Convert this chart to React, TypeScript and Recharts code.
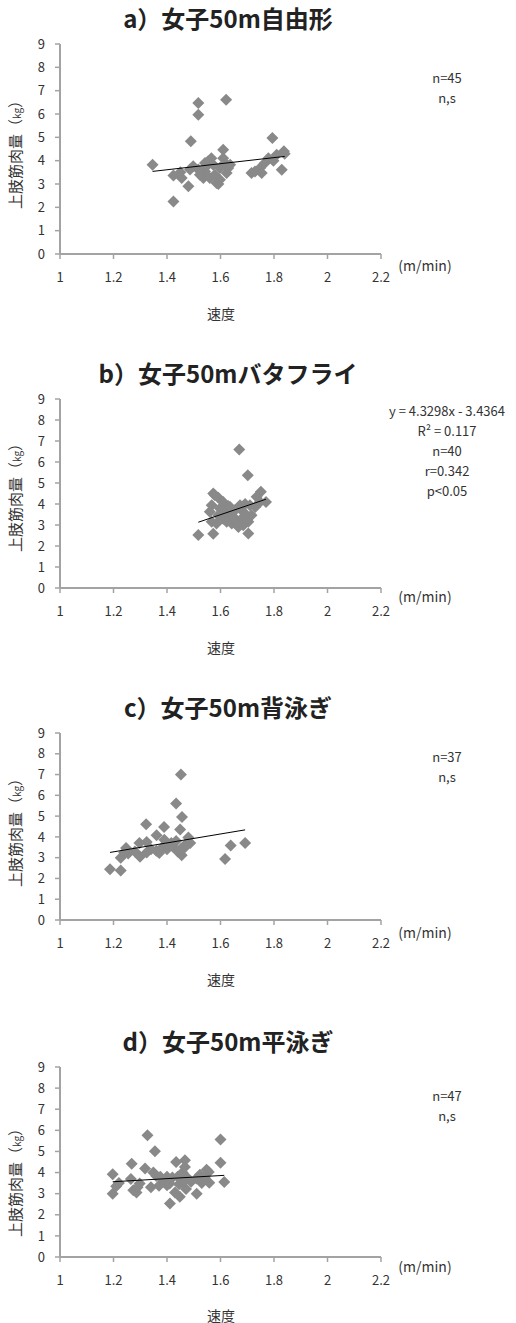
import React from 'react';
import { ScatterChart, Scatter, XAxis, YAxis } from 'recharts';

// ---------- data ----------
const xTicks = [1, 1.2, 1.4, 1.6, 1.8, 2, 2.2];
const yTicks = [0, 1, 2, 3, 4, 5, 6, 7, 8, 9];

const titles = ['a）女子50m自由形', 'b）女子50mバタフライ', 'c）女子50m背泳ぎ', 'd）女子50m平泳ぎ'];
const xLabel = '速度';
const unitLabel = '(m/min)';
const yLabelMain = '上肢筋肉量';
const yLabelUnit = 'kg';

const annotA = ['n=45', 'n,s'];
const annotB = ['y = 4.3298x - 3.4364', 'R² = 0.117', 'n=40', 'r=0.342', 'p<0.05'];
const annotC = ['n=37', 'n,s'];
const annotD = ['n=47', 'n,s'];

// trend lines: [slope, intercept]
const trendA = [1.30, 1.79];
const trendB = [4.3298, -3.4364];
const trendC = [2.15, 0.70];
const trendD = [0.73, 2.69];

const freeX = [1.346, 1.517, 1.517, 1.621, 1.489, 1.794, 1.424, 1.48, 1.424, 1.455, 1.45, 1.61, 1.592, 1.498, 1.517, 1.542, 1.554, 1.566, 1.536, 1.56, 1.579, 1.598, 1.617, 1.629, 1.636, 1.61, 1.598, 1.585, 1.523, 1.729, 1.748, 1.766, 1.779, 1.798, 1.81, 1.829, 1.837, 1.548, 1.573, 1.542, 1.623, 1.754, 1.716, 1.486, 1.84];
const freeY = [3.83, 6.47, 5.97, 6.61, 4.83, 4.97, 2.25, 2.9, 3.36, 3.26, 3.5, 4.47, 3.0, 3.76, 3.62, 3.54, 3.97, 4.1, 3.26, 3.26, 3.4, 3.69, 3.9, 3.69, 3.83, 4.1, 3.18, 3.04, 3.4, 3.54, 3.69, 3.9, 4.1, 4.0, 4.25, 3.61, 4.4, 3.76, 3.83, 3.9, 3.47, 3.47, 3.47, 3.62, 4.3];

const flyX = [1.67, 1.702, 1.517, 1.573, 1.704, 1.751, 1.77, 1.573, 1.592, 1.61, 1.629, 1.567, 1.56, 1.592, 1.567, 1.585, 1.61, 1.636, 1.654, 1.673, 1.692, 1.71, 1.73, 1.748, 1.642, 1.66, 1.679, 1.698, 1.716, 1.648, 1.623, 1.667, 1.685, 1.617, 1.598, 1.579, 1.735, 1.679, 1.636, 1.704];
const flyY = [6.6, 5.37, 2.52, 2.58, 2.59, 4.58, 4.1, 4.5, 4.3, 4.1, 3.9, 3.94, 3.63, 3.47, 3.15, 3.07, 3.3, 3.47, 3.7, 3.94, 4.0, 3.94, 3.86, 4.1, 3.07, 3.15, 3.3, 3.47, 3.47, 3.39, 3.15, 2.91, 2.99, 3.63, 3.78, 4.42, 4.34, 3.7, 3.86, 3.15];

const backX = [1.452, 1.187, 1.227, 1.617, 1.638, 1.692, 1.434, 1.456, 1.322, 1.389, 1.449, 1.227, 1.247, 1.297, 1.299, 1.324, 1.371, 1.361, 1.455, 1.48, 1.487, 1.255, 1.416, 1.39, 1.434, 1.467, 1.34, 1.4, 1.44, 1.324, 1.383, 1.28, 1.36, 1.42, 1.47, 1.24, 1.45];
const backY = [7.0, 2.44, 2.38, 2.93, 3.58, 3.7, 5.61, 4.96, 4.61, 4.48, 4.36, 2.99, 3.47, 3.71, 3.04, 3.76, 3.23, 4.08, 3.12, 3.97, 3.71, 3.2, 3.7, 3.86, 3.8, 3.5, 3.4, 3.4, 3.3, 3.25, 3.5, 3.3, 3.33, 3.55, 3.65, 3.25, 3.4];

const breastX = [1.197, 1.197, 1.21, 1.268, 1.265, 1.274, 1.286, 1.298, 1.318, 1.327, 1.355, 1.349, 1.36, 1.37, 1.39, 1.4, 1.411, 1.42, 1.434, 1.43, 1.448, 1.445, 1.467, 1.458, 1.467, 1.474, 1.471, 1.511, 1.49, 1.523, 1.548, 1.542, 1.558, 1.556, 1.6, 1.6, 1.614, 1.46, 1.41, 1.375, 1.51, 1.34, 1.4, 1.44, 1.53, 1.22, 1.29];
const breastY = [3.92, 3.0, 3.35, 4.42, 3.7, 3.16, 3.06, 3.48, 4.19, 5.77, 5.01, 4.0, 3.84, 3.38, 3.55, 3.4, 2.53, 3.77, 4.5, 3.06, 2.85, 3.45, 4.58, 4.0, 4.26, 3.78, 3.22, 3.0, 3.56, 3.9, 4.13, 3.73, 3.52, 4.03, 5.56, 4.46, 3.55, 3.56, 3.48, 3.8, 3.72, 3.3, 3.8, 3.8, 3.5, 3.5, 3.3];

const toPoints = (xs: number[], ys: number[]) => xs.map((x, i) => ({ x, y: ys[i] }));

// ---------- styles / layout ----------
const FONT = '"Noto Sans CJK JP", "Noto Sans", sans-serif';
const AXIS = '#a3a3a3';
const MARK = '#898989';
const TXT = '#333333';

const panels = [
  { title: titles[0], xs: freeX, ys: freeY, trend: trendA, annot: annotA, top: 0, h: 330, plotTop: 44, plotBottom: 254, titleY: 18, yLabY: 151, unitY: 265, xLabY: 313, annotY: 77 },
  { title: titles[1], xs: flyX, ys: flyY, trend: trendB, annot: annotB, top: 330, h: 330, plotTop: 399, plotBottom: 588, titleY: 373, yLabY: 494, unitY: 596, xLabY: 647, annotY: 410 },
  { title: titles[2], xs: backX, ys: backY, trend: trendC, annot: annotC, top: 660, h: 330, plotTop: 733, plotBottom: 920, titleY: 707, yLabY: 829, unitY: 932, xLabY: 979, annotY: 756 },
  { title: titles[3], xs: breastX, ys: breastY, trend: trendD, annot: annotD, top: 990, h: 333, plotTop: 1067, plotBottom: 1257, titleY: 1041, yLabY: 1179, unitY: 1266, xLabY: 1315, annotY: 1095 },
];

const Diamond = (props: any) => {
  const { cx, cy } = props;
  const r = 6;
  return <polygon points={`${cx},${cy - r} ${cx + r},${cy} ${cx},${cy + r} ${cx - r},${cy}`} fill={MARK} />;
};
const NoShape = () => <g />;

const abs = (x: number, y: number, extra: React.CSSProperties = {}): React.CSSProperties => ({
  position: 'absolute', left: x, top: y, transform: 'translate(-50%, -50%)', whiteSpace: 'nowrap', fontFamily: FONT, color: TXT, lineHeight: 1, ...extra,
});

const X_AXIS_H = 40;

function Panel(p: any) {
  const data = toPoints(p.xs, p.ys);
  const x0 = Math.min(...p.xs);
  const x1 = Math.max(...p.xs);
  const [m, b] = p.trend;
  const trendPts = [{ x: x0, y: m * x0 + b }, { x: x1, y: m * x1 + b }];
  const mTop = p.plotTop - p.top;
  const mBottom = p.h - (p.plotBottom - p.top) - X_AXIS_H;
  return (
    <>
      <div style={{ position: 'absolute', left: 0, top: p.top }}>
        <ScatterChart width={516} height={p.h} margin={{ top: mTop, right: 135, bottom: mBottom, left: 0 }}>
          <XAxis type="number" dataKey="x" domain={[1, 2.2]} ticks={xTicks} height={X_AXIS_H}
            axisLine={{ stroke: AXIS, strokeWidth: 2 }} tickLine={{ stroke: AXIS, strokeWidth: 1.5 }}
            tickSize={5} tickMargin={14} tick={{ fill: TXT, fontSize: 13, fontFamily: FONT }} />
          <YAxis type="number" dataKey="y" domain={[0, 9]} ticks={yTicks} width={60} interval={0}
            axisLine={{ stroke: AXIS, strokeWidth: 2 }} tickLine={{ stroke: AXIS, strokeWidth: 1.5 }}
            tickSize={5} tickMargin={10} tick={{ fill: TXT, fontSize: 13, fontFamily: FONT }} />
          <Scatter data={data} shape={<Diamond />} isAnimationActive={false} />
          <Scatter data={trendPts} shape={<NoShape />} line={{ stroke: '#000', strokeWidth: 1 }} isAnimationActive={false} />
        </ScatterChart>
      </div>
      <div style={abs(228, p.titleY, { fontSize: 24, fontWeight: 700, color: '#222' })}>{p.title}</div>
      <div style={abs(14, p.yLabY, { fontSize: 15, transform: 'translate(-50%, -50%) rotate(-90deg)' })}>
        {yLabelMain}（<span style={{ fontSize: 10 }}>{yLabelUnit}</span>）
      </div>
      <div style={abs(425, p.unitY, { fontSize: 14 })}>{unitLabel}</div>
      <div style={abs(221, p.xLabY, { fontSize: 14 })}>{xLabel}</div>
      {p.annot.map((t: string, i: number) => (
        <div key={i} style={abs(447, p.annotY + i * 20, { fontSize: 13 })}>{t}</div>
      ))}
    </>
  );
}

export default function App() {
  return (
    <div style={{ position: 'absolute', left: 0, top: 0, width: 516, height: 1323, background: '#fff' }}>
      {panels.map((p, i) => <Panel key={i} {...p} />)}
    </div>
  );
}
